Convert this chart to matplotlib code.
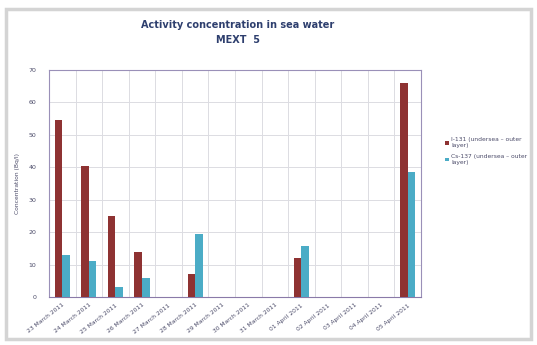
import matplotlib
matplotlib.use("Agg")
import matplotlib.pyplot as plt
import numpy as np
from matplotlib.patches import Rectangle

dates = ["23 March 2011", "24 March 2011", "25 March 2011", "26 March 2011",
         "27 March 2011", "28 March 2011", "29 March 2011", "30 March 2011",
         "31 March 2011", "01 April 2011", "02 April 2011", "03 April 2011",
         "04 April 2011", "05 April 2011"]
i131 = [54.5, 40.5, 25.0, 14.0, 0, 7.0, 0, 0, 0, 12.0, 0, 0, 0, 66.0]
cs137 = [13.0, 11.0, 3.0, 6.0, 0, 19.5, 0, 0, 0, 15.8, 0, 0, 0, 38.5]
series_names = ["I-131 (undersea \u2013 outer\nlayer)", "Cs-137 (undersea \u2013 outer\nlayer)"]
yticks = [0, 10, 20, 30, 40, 50, 60, 70]

RED = "#8e3232"
BLUE = "#4bacc6"
GRID = "#dcdce2"
TEXT = "#4a4a68"

fig = plt.figure(figsize=(5.37, 3.45), dpi=100)
fig.patch.set_facecolor("white")
# outer chart frame
fig.add_artist(Rectangle((6 / 537, 6 / 345), 525 / 537, 330 / 345, transform=fig.transFigure,
                         fill=False, edgecolor="#d4d4d4", linewidth=2.5))

ax = fig.add_axes([49 / 537, 48 / 345, 372 / 537, 227 / 345])
x = np.arange(len(dates))
w = 0.286
ax.bar(x - w / 2, i131, width=w, color=RED, label=series_names[0], zorder=3)
ax.bar(x + w / 2, cs137, width=w, color=BLUE, label=series_names[1], zorder=3)

ax.set_xlim(-0.5, len(dates) - 0.5)
ax.set_ylim(0, 70)
ax.set_yticks(yticks)
ax.set_yticklabels([str(v) for v in yticks], fontsize=4.5, color=TEXT)
ax.set_xticks(x)
ax.set_xticklabels(dates, rotation=38, ha="right", rotation_mode="anchor",
                   fontsize=4.3, color=TEXT)
ax.tick_params(axis="y", length=0, pad=9)
ax.tick_params(axis="x", length=0, pad=4)
ax.set_xticks(np.arange(len(dates) + 1) - 0.5, minor=True)
ax.tick_params(axis="x", which="minor", length=0)
ax.grid(axis="y", color=GRID, linewidth=0.7, zorder=0)
ax.grid(axis="x", which="minor", color=GRID, linewidth=0.7, zorder=0)
ax.grid(axis="x", which="major", visible=False)
for s in ax.spines.values():
    s.set_color("#9a90b8")
    s.set_linewidth(0.8)
ax.spines["bottom"].set_color("#8a7aa8")

ax.set_ylabel("Concentration (Bq/l)", fontsize=4.3, color=TEXT, labelpad=6)

fig.text(0.5 * (49 + 421) / 537 + 0.005, 1 - 25 / 345, "Activity concentration in sea water",
         ha="center", va="center", fontsize=7, fontweight="bold", color="#2e3f6e")
fig.text(0.5 * (49 + 421) / 537 + 0.005, 1 - 40 / 345, "MEXT  5",
         ha="center", va="center", fontsize=7, fontweight="bold", color="#2e3f6e")

fig.legend(loc="upper left", bbox_to_anchor=(440 / 537, 1 - 132 / 345), frameon=False,
           fontsize=4.3, handlelength=0.6, handleheight=0.6, handletextpad=0.4,
           labelspacing=1.0, labelcolor=TEXT)

fig.savefig("out.png", dpi=100, facecolor="white")
